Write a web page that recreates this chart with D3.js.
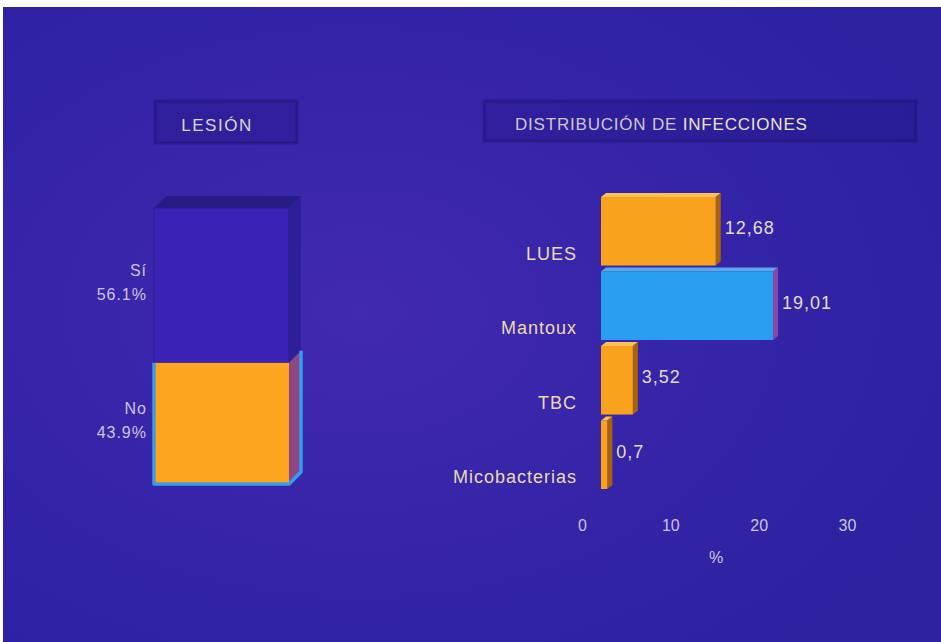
<!DOCTYPE html>
<html><head><meta charset="utf-8">
<script src="https://cdn.jsdelivr.net/npm/d3@7"></script>
<style>html,body{margin:0;padding:0;background:#fff;overflow:hidden}</style>
</head><body>
<script>
// ---- data ----
const lesionCats = ["No", "Sí"];
const lesionVals = [43.9, 56.1];
const lesionLabels = ["43.9%", "56.1%"];
const infCats = ["LUES", "Mantoux", "TBC", "Micobacterias"];
const infVals = [12.68, 19.01, 3.52, 0.7];
const infLabels = ["12,68", "19,01", "3,52", "0,7"];
const infColors = ["#f9a21e", "#2b9df0", "#f9a21e", "#f9a21e"];
const xTicks = [0, 10, 20, 30];

const W = 941, H = 642;
const svg = d3.select("body").append("svg").attr("width", W).attr("height", H)
  .style("font-family", "'Liberation Sans', Arial, sans-serif");
const defs = svg.append("defs");
const rg = defs.append("radialGradient").attr("id", "bg").attr("cx", "38%").attr("cy", "48%").attr("r", "70%");
rg.append("stop").attr("offset", "0%").attr("stop-color", "#4129b0");
rg.append("stop").attr("offset", "55%").attr("stop-color", "#3524a8");
rg.append("stop").attr("offset", "100%").attr("stop-color", "#2b22a0");
svg.append("rect").attr("x", 3).attr("y", 7).attr("width", W - 3).attr("height", H - 7).attr("fill", "url(#bg)");

// title boxes
function titleBox(x, y, w, h) {
  svg.append("rect").attr("x", x).attr("y", y).attr("width", w).attr("height", h)
    .attr("fill", "rgba(25,15,110,0.22)").attr("stroke", "rgba(20,10,80,0.3)").attr("stroke-width", 3);
}
titleBox(155, 101, 142, 42);
titleBox(484, 101, 432, 40);
svg.append("text").attr("x", 217).attr("y", 131).attr("text-anchor", "middle")
  .attr("font-size", 17).attr("letter-spacing", 1.5).attr("fill", "#ddd6cc").text("LESIÓN");
const tt = svg.append("text").attr("x", 515).attr("y", 130).attr("font-size", 17).attr("letter-spacing", 0.8);
tt.append("tspan").attr("fill", "#cfc6cc").text("DISTRIBUCIÓN DE ");
tt.append("tspan").attr("fill", "#ece2c4").text("INFECCIONES");

// ---- left stacked 3D bar ----
const yL = d3.scaleLinear().domain([0, 100]).range([484, 208]);
const lx0 = 154, lx1 = 289, dxL = 12, dyL = -12;
let cum = 0;
const segs = lesionVals.map((v, i) => { const s = { cat: lesionCats[i], v, lab: lesionLabels[i], y0: cum, y1: cum + v }; cum += v; return s; });
const lg = svg.append("g");
const sNo = segs[0], sSi = segs[1];
// Sí segment (purple, nearly background)
lg.append("path").attr("d", `M${lx0},${yL(sSi.y1)} L${lx0 + dxL},${yL(sSi.y1) + dyL} L${lx1 + dxL},${yL(sSi.y1) + dyL} L${lx1},${yL(sSi.y1)} Z`)
  .attr("fill", "#261c86");
lg.append("path").attr("d", `M${lx1},${yL(sSi.y1)} L${lx1 + dxL},${yL(sSi.y1) + dyL} L${lx1 + dxL},${yL(sSi.y0) + dyL} L${lx1},${yL(sSi.y0)} Z`)
  .attr("fill", "#2d1f98");
lg.append("rect").attr("x", lx0).attr("y", yL(sSi.y1)).attr("width", lx1 - lx0).attr("height", yL(sSi.y0) - yL(sSi.y1))
  .attr("fill", "#3a22b6").attr("stroke", "#2a1c8c").attr("stroke-width", 1);
// No segment: side face then front
lg.append("path").attr("d", `M${lx1},${yL(sNo.y1)} L${lx1 + dxL},${yL(sNo.y1) + dyL} L${lx1 + dxL},${yL(sNo.y0) + dyL} L${lx1},${yL(sNo.y0)} Z`)
  .attr("fill", "#8c4784");
lg.append("path").attr("d", `M${lx1 + dxL},${yL(sNo.y1) + dyL} L${lx1 + dxL},${yL(sNo.y0) + dyL} L${lx1},${yL(sNo.y0)} L${lx0},${yL(sNo.y0)} L${lx0},${yL(sNo.y1)}`)
  .attr("fill", "none").attr("stroke", "#2f9ff2").attr("stroke-width", 3.5).attr("stroke-linejoin", "round");
lg.append("rect").attr("x", lx0 + 1.5).attr("y", yL(sNo.y1)).attr("width", lx1 - lx0 - 1.5).attr("height", yL(sNo.y0) - yL(sNo.y1) - 1.5)
  .attr("fill", "#fba41c");
// labels
segs.forEach(s => {
  const mid = (yL(s.y0) + yL(s.y1)) / 2 - 3;
  const t = lg.append("text").attr("text-anchor", "end").attr("font-size", 16).attr("letter-spacing", 1).attr("fill", "#cdc4dc");
  t.append("tspan").attr("x", 147).attr("y", mid - 6).text(s.cat);
  t.append("tspan").attr("x", 147).attr("y", mid + 18).text(s.lab);
});

// ---- right horizontal 3D bars ----
const xB = d3.scaleLinear().domain([0, 30]).range([601, 601 + 271.5]);
const yB = d3.scaleBand().domain(infCats).range([197, 489]).paddingInner(0.08).paddingOuter(0);
const dx = 5, dy = -4;
const rg2 = svg.append("g");
infCats.forEach((c, i) => {
  const x0 = xB(0), x1 = xB(infVals[i]), y0 = yB(c), y1 = y0 + yB.bandwidth();
  const col = infColors[i];
  const side = col === "#2b9df0" ? "#8a47a8" : "#a8620e";
  const top = col === "#2b9df0" ? "#5aa8e8" : "#fcc05a";
  rg2.append("path").attr("d", `M${x0},${y0} L${x0 + dx},${y0 + dy} L${x1 + dx},${y0 + dy} L${x1},${y0} Z`).attr("fill", top);
  rg2.append("path").attr("d", `M${x1},${y0} L${x1 + dx},${y0 + dy} L${x1 + dx},${y1 + dy} L${x1},${y1} Z`).attr("fill", side);
  rg2.append("rect").attr("x", x0).attr("y", y0).attr("width", x1 - x0).attr("height", y1 - y0).attr("fill", col);
  rg2.append("text").attr("x", 577).attr("y", y1 - 6).attr("text-anchor", "end").attr("font-size", 18)
    .attr("letter-spacing", 1).attr("fill", "#e9dcaa").text(c);
  rg2.append("text").attr("x", x1 + dx + 4).attr("y", (y0 + y1) / 2 + 3).attr("font-size", 18)
    .attr("letter-spacing", 1).attr("fill", "#e4dcc4").text(infLabels[i]);
});

// axis (labels only)
const xA = d3.scaleLinear().domain([0, 30]).range([582, 847]);
const ax = svg.append("g").attr("transform", "translate(0,520)")
  .call(d3.axisBottom(xA).tickValues(xTicks).tickSize(0).tickPadding(0).tickFormat(d3.format("d")));
ax.select(".domain").remove();
ax.selectAll("text").attr("font-size", 16).attr("fill", "#cbc3d8").attr("dy", "0.71em")
  .style("font-family", "'Liberation Sans', Arial, sans-serif");
svg.append("text").attr("x", 716).attr("y", 563).attr("text-anchor", "middle").attr("font-size", 16)
  .attr("fill", "#cbc3d8").text("%");
</script>
</body></html>
